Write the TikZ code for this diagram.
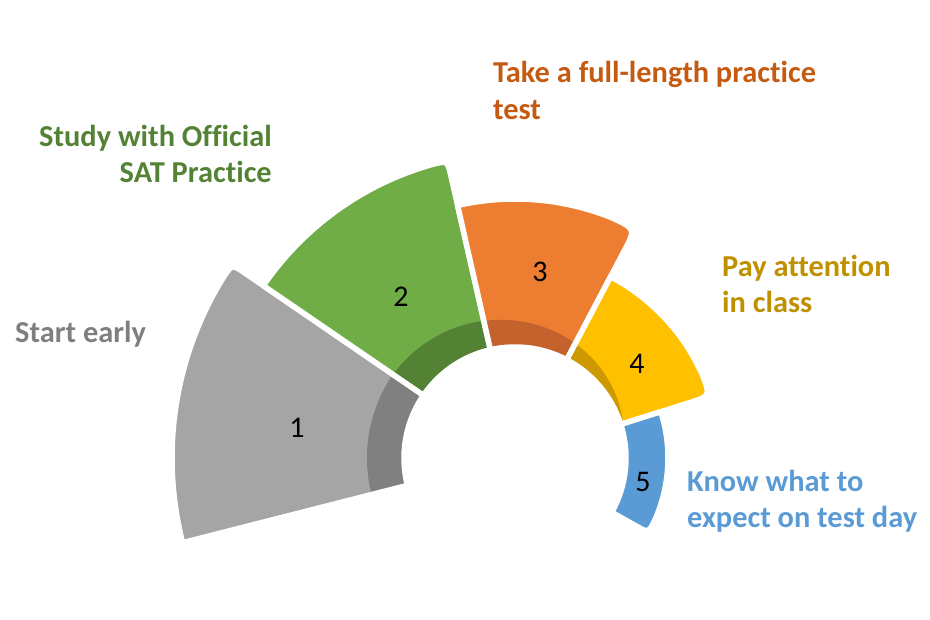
\documentclass[tikz,border=0pt]{standalone}
\usepackage{fontspec}
\setmainfont{Carlito}[Ligatures=NoCommon]
\definecolor{cgray}{HTML}{A5A5A5}
\definecolor{cgrayd}{HTML}{808080}
\definecolor{cgreen}{HTML}{70AD47}
\definecolor{cgreend}{HTML}{548235}
\definecolor{corange}{HTML}{ED7D31}
\definecolor{corangeD}{HTML}{C4622D}
\definecolor{cyellow}{HTML}{FFC000}
\definecolor{cyellowd}{HTML}{CC9A00}
\definecolor{cblue}{HTML}{5B9BD5}
\definecolor{tgray}{HTML}{7F7F7F}
\definecolor{tgreen}{HTML}{548235}
\definecolor{torange}{HTML}{C55A11}
\definecolor{tyellow}{HTML}{BF9000}
\definecolor{tblue}{HTML}{5B9BD5}
\tikzset{
  sect/.style n args={5}{insert path={(#1:#3) -- (#1:#4)
     arc[start angle=#1, end angle={#2+#5/#4*57.2958}, radius=#4]
     .. controls (#2:#4) .. (#2:{#4-#5}) -- (#2:#3)
     arc[start angle=#2, end angle=#1, radius=#3] -- cycle}},
  gapline/.style={draw=white, line width=5.5pt, line join=round},
  numlabel/.style={font=\fontsize{30}{34}\selectfont, text=black, inner sep=0pt},
  steplabel/.style={font=\bfseries\fontsize{30.4}{36}\selectfont, inner sep=0pt},
}
\begin{document}
\begin{tikzpicture}[x=1pt,y=1pt,
  declare function={uu(\t)=min(max((\t-19)/131,0),1);
                    bt(\t)=34*(1-(1-uu(\t))*sqrt(1-uu(\t)));}]
\useasboundingbox (-515,-162) rectangle (415,458);
% sector 1
\fill[cgray, sect={194.3}{145.6}{111}{343}{16}];
\fill[cgrayd] (145.6:111) arc[start angle=145.6, end angle=194.3, radius=111]
   -- plot[domain=194.3:145.6, samples=30] (\x:{114+bt(\x)}) -- cycle;
\path[gapline, sect={194.3}{145.6}{111}{343}{16}];
% sector 2
\fill[cgreen, sect={145.6}{102.8}{111}{305}{16}];
\fill[cgreend] (102.8:111) arc[start angle=102.8, end angle=145.6, radius=111]
   -- plot[domain=145.6:102.8, samples=30] (\x:{114+bt(\x)}) -- cycle;
\path[gapline, sect={145.6}{102.8}{111}{305}{16}];
% sector 3
\fill[corange, sect={102.8}{62.2}{111}{259}{26}];
\fill[corangeD] (62.2:111) arc[start angle=62.2, end angle=102.8, radius=111]
   -- plot[domain=102.8:62.2, samples=30] (\x:{114+bt(\x)}) -- cycle;
\path[gapline, sect={102.8}{62.2}{111}{259}{26}];
% sector 4
\fill[cyellow, sect={62.2}{17.6}{111}{205}{22}];
\fill[cyellowd] (19.5:111) arc[start angle=19.5, end angle=62.2, radius=111]
   -- plot[domain=62.2:19.5, samples=30] (\x:{114+bt(\x)}) -- cycle;
\path[gapline, sect={62.2}{17.6}{111}{205}{22}];
% sector 5
\fill[cblue, sect={17.6}{-29.3}{111}{153}{14}];
\path[gapline, sect={17.6}{-29.3}{111}{153}{14}];
% numbers
\node[numlabel] (n1) at (-218,30) {1};
\node[numlabel] (n2) at (-114,161) {2};
\node[numlabel] (n3) at (25,186) {3};
\node[numlabel] (n4) at (122,94) {4};
\node[numlabel] (n5) at (128,-24) {5};
% labels
\node[steplabel, text=tgray, anchor=base west] (l1) at (-500,115) {Start early};
\node[steplabel, text=tgreen, anchor=base east] (l2a) at (-243,311) {Study with Official};
\node[steplabel, text=tgreen, anchor=base east] (l2b) at (-243,275) {SAT Practice};
\node[steplabel, text=torange, anchor=base west] (l3a) at (-22,375) {Take a full-length practice};
\node[steplabel, text=torange, anchor=base west] (l3b) at (-22,338) {test};
\node[steplabel, text=tyellow, anchor=base west] (l4a) at (207,181) {Pay attention};
\node[steplabel, text=tyellow, anchor=base west] (l4b) at (207,145) {in class};
\node[steplabel, text=tblue, anchor=base west] (l5a) at (172,-34) {Know what to};
\node[steplabel, text=tblue, anchor=base west] (l5b) at (172,-70) {expect on test day};
\end{tikzpicture}
\end{document}
